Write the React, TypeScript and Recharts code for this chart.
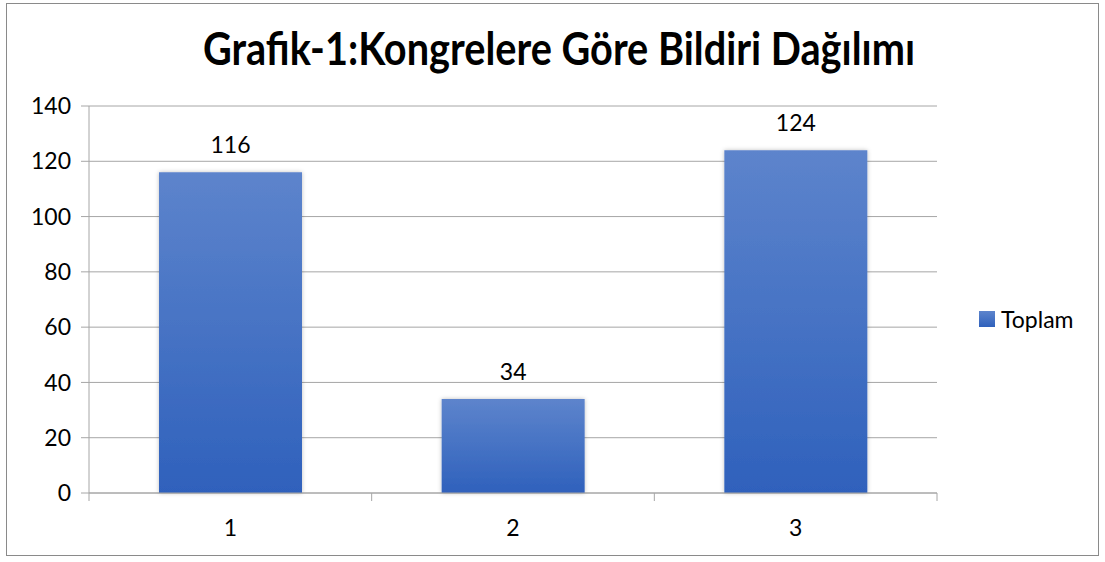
import React from 'react';
import { BarChart, Bar, XAxis, YAxis, CartesianGrid, Legend, LabelList } from 'recharts';

const categories = ['1', '2', '3'];
const toplam = [116, 34, 124];
const yTicks = [0, 20, 40, 60, 80, 100, 120, 140];
const seriesName = 'Toplam';
const title = 'Grafik-1:Kongrelere Göre Bildiri Dağılımı';

const data = categories.map((c, i) => ({ name: c, toplam: toplam[i] }));

const FONT = 'Lato, "Open Sans", sans-serif';
const GRID = '#a6a6a6';

const LegendContent = () => (
  <div style={{ display: 'flex', alignItems: 'center', fontFamily: FONT, fontSize: 23, color: '#000', lineHeight: '24px' }}>
    <svg width={16} height={16} style={{ marginRight: 6 }}>
      <rect width={16} height={16} fill="url(#barGrad)" />
    </svg>
    <span>{seriesName}</span>
  </div>
);

// category label plus tick marks on the category boundaries (Excel style)
const CategoryTick = (p: any) => {
  const band = p.width / p.visibleTicksCount;
  const left = p.x - band / 2;
  const right = p.x + band / 2;
  return (
    <g>
      <line x1={left} x2={left} y1={p.y} y2={p.y + 8} stroke={GRID} />
      {p.index === p.visibleTicksCount - 1 && <line x1={right} x2={right} y1={p.y} y2={p.y + 8} stroke={GRID} />}
      <text x={p.x} y={p.y + 27} dy="0.71em" textAnchor="middle" fontFamily={FONT} fontSize={23} fill="#000">
        {p.payload.value}
      </text>
    </g>
  );
};

export default function App() {
  return (
    <div style={{ position: 'absolute', left: 0, top: 0, width: 1105, height: 562, background: '#fff' }}>
      <BarChart
        width={1105}
        height={562}
        data={data}
        margin={{ top: 106, right: 48, bottom: 29, left: 29 }}
        barSize={143}
      >
        <defs>
          <linearGradient id="barGrad" x1="0" y1="0" x2="0" y2="1">
            <stop offset="0%" stopColor="#5d84cc" />
            <stop offset="100%" stopColor="#2f61bc" />
          </linearGradient>
          <filter id="barShadow" x="-10%" y="-10%" width="120%" height="120%">
            <feDropShadow dx="0" dy="0" stdDeviation="2" floodColor="#000" floodOpacity="0.25" />
          </filter>
        </defs>
        <CartesianGrid vertical={false} stroke={GRID} strokeWidth={1} />
        <XAxis
          dataKey="name"
          height={40}
          interval={0}
          axisLine={{ stroke: GRID }}
          tickLine={false}
          tickSize={0}
          tickMargin={0}
          tick={<CategoryTick />}
        />
        <YAxis
          width={60}
          domain={[0, 140]}
          ticks={yTicks}
          interval={0}
          axisLine={{ stroke: GRID }}
          tickLine={{ stroke: GRID }}
          tickSize={8}
          tickMargin={10}
          tick={{ fontFamily: FONT, fontSize: 23, fill: '#000' }}
        />
        <Legend
          layout="vertical"
          align="right"
          verticalAlign="middle"
          content={LegendContent}
          wrapperStyle={{ left: 979, top: 307, width: 120 }}
        />
        <Bar dataKey="toplam" name={seriesName} fill="url(#barGrad)" filter="url(#barShadow)" isAnimationActive={false}>
          <LabelList dataKey="toplam" position="top" offset={19} style={{ fontFamily: FONT, fontSize: 23, fill: '#000' }} />
        </Bar>
      </BarChart>
      <svg width={1105} height={562} style={{ position: 'absolute', left: 0, top: 0, pointerEvents: 'none' }}>
        <text
          x={559}
          y={65}
          textAnchor="middle"
          textLength={712}
          lengthAdjust="spacingAndGlyphs"
          style={{ fontFamily: FONT, fontSize: 45, fontWeight: 700, fill: '#000' }}
        >
          {title}
        </text>
      </svg>
      <div
        style={{
          position: 'absolute',
          left: 6,
          top: 3,
          width: 1093,
          height: 553,
          border: '1px solid #8a8a8a',
          boxSizing: 'border-box',
          pointerEvents: 'none',
        }}
      />
    </div>
  );
}
